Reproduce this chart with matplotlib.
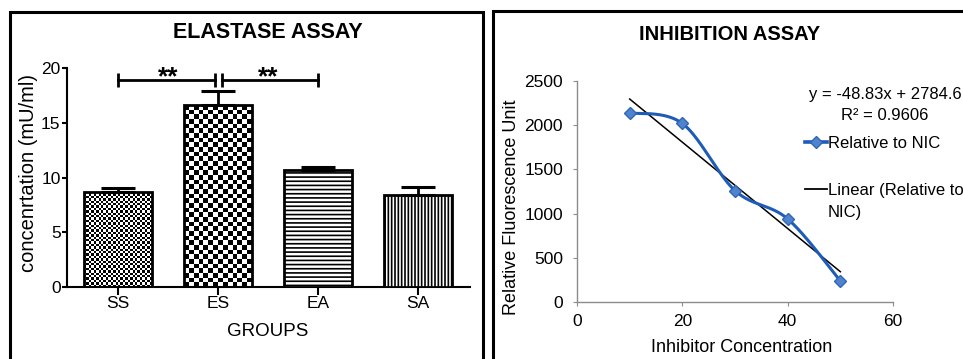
import numpy as np
import matplotlib

matplotlib.use("Agg")
import matplotlib.pyplot as plt
from matplotlib.lines import Line2D
from matplotlib.patches import Rectangle

plt.rcParams["font.family"] = ["Liberation Sans", "DejaVu Sans"]
plt.rcParams["hatch.linewidth"] = 1.2

# elastase assay (left panel)
groups = ["SS", "ES", "EA", "SA"]
conc = [8.7, 16.6, 10.7, 8.4]
conc_err = [0.3, 1.3, 0.23, 0.7]
sig_pairs = [(0, 1), (1, 2)]
sig_height = 18.9
sig_label = "**"

# inhibition assay (right panel)
inhib_conc = [10, 20, 30, 40, 50]
rfu = [2140, 2020, 1260, 940, 238]
fit_text = "y = -48.83x + 2784.6"
r2_text = "R² = 0.9606"

W, H = 963, 359


def fx(px):
    return px / W


def fy(py):
    return 1 - py / H


def checker(ax, bar, cell_px):
    # checkerboard fill clipped to the bar outline
    x0, w, h = bar.get_x(), bar.get_width(), bar.get_height()
    p0 = ax.transData.transform((x0, 0))
    p1 = ax.transData.transform((x0 + w, h))
    ncol = max(1, int(round((p1[0] - p0[0]) / cell_px)))
    nrow = max(1, int(round((p1[1] - p0[1]) / cell_px)))
    board = np.indices((nrow, ncol)).sum(axis=0) % 2
    im = ax.imshow(board, cmap="gray", extent=(x0, x0 + w, 0, h), origin="lower",
                   aspect="auto", interpolation="nearest", zorder=2)
    im.set_clip_path(bar)


def smooth(xs, ys, steps=40):
    # Catmull-Rom style bezier, like a spreadsheet "smoothed line"
    pts = np.column_stack([xs, ys]).astype(float)
    ext = np.vstack([pts[0], pts, pts[-1]])
    out = []
    t = np.linspace(0, 1, steps)[:, None]
    for i in range(1, len(ext) - 2):
        p0, p3 = ext[i], ext[i + 1]
        c1 = p0 + (ext[i + 1] - ext[i - 1]) / 6
        c2 = p3 - (ext[i + 2] - ext[i]) / 6
        seg = ((1 - t) ** 3) * p0 + 3 * ((1 - t) ** 2) * t * c1 + 3 * (1 - t) * t ** 2 * c2 + t ** 3 * p3
        out.append(seg)
    out = np.vstack(out)
    return out[:, 0], out[:, 1]


fig = plt.figure(figsize=(W / 100, H / 100), dpi=100)

# panel frames
fig.patches.append(Rectangle((fx(9.5), fy(420)), fx(482.5) - fx(9.5), fy(12) - fy(420),
                             transform=fig.transFigure, fill=False, lw=2.2, ec="black"))
fig.patches.append(Rectangle((fx(492.5), fy(420)), fx(1000) - fx(492.5), fy(11) - fy(420),
                             transform=fig.transFigure, fill=False, lw=2.2, ec="black"))

# ---- left: bar chart ----
ax1 = fig.add_axes([fx(67), fy(287), (470 - 67) / W, (287 - 68) / H])
x = np.arange(len(groups))
ax1.set_xlim(-0.51, 3.52)
ax1.set_ylim(0, 20)
bars = ax1.bar(x, conc, width=0.68, color="white", edgecolor="black", linewidth=2, zorder=3)
bars[0].set_facecolor("none")
bars[1].set_facecolor("none")
bars[2].set_hatch("----")
bars[3].set_hatch("|||||")
checker(ax1, bars[0], 2.4)
checker(ax1, bars[1], 4.7)
ax1.set_xlim(-0.51, 3.52)
ax1.set_ylim(0, 20)

ax1.errorbar(x, conc, yerr=[np.zeros(len(conc)), conc_err], fmt="none", ecolor="black",
             elinewidth=2, capsize=12, capthick=2.2, zorder=4)

shared = {a for a, b in sig_pairs} & {b for a, b in sig_pairs}
gap = 0.035
for a, b in sig_pairs:
    xa = x[a] + (gap if a in shared else 0)
    xb = x[b] - (gap if b in shared else 0)
    ax1.plot([xa, xb], [sig_height, sig_height], color="black", lw=2, clip_on=False)
    ax1.vlines([xa, xb], sig_height - 0.6, sig_height + 0.6, color="black", lw=2, clip_on=False)
    ax1.text((x[a] + x[b]) / 2, sig_height - 0.35, sig_label, ha="center", va="baseline",
             fontsize=19, fontweight="bold", clip_on=False)

for side in ("top", "right"):
    ax1.spines[side].set_visible(False)
for side in ("left", "bottom"):
    ax1.spines[side].set_linewidth(1.5)
ax1.set_xticks(x)
ax1.set_xticklabels(groups)
ax1.set_yticks([0, 5, 10, 15, 20])
ax1.tick_params(axis="y", length=3.6, width=1.5, pad=1, labelsize=12.5)
ax1.tick_params(axis="x", length=5.8, width=1.5, pad=1, labelsize=12.5)

fig.text(fx(268), fy(32), "ELASTASE ASSAY", ha="center", va="center", fontsize=15.5, fontweight="bold")
fig.text(fx(29), fy(173.5), "concenrtation (mU/ml)", rotation=90, ha="center", va="center", fontsize=14.5)
fig.text(fx(268), fy(332), "GROUPS", ha="center", va="center", fontsize=13.5)

# ---- right: inhibition curve ----
ax2 = fig.add_axes([fx(577), fy(302), (893 - 577) / W, (302 - 81) / H])
ax2.set_xlim(0, 60)
ax2.set_ylim(0, 2500)
sx, sy = smooth(inhib_conc, rfu)
ax2.plot(sx, sy, color="#1f5cb8", lw=2.2, zorder=3)
ax2.plot(inhib_conc, rfu, linestyle="none", marker="D", ms=6.5, mfc="#4f84cc",
         mec="#2f66b8", mew=1, zorder=4)
slope, icpt = np.polyfit(inhib_conc, rfu, 1)
fit_x = np.array([min(inhib_conc), max(inhib_conc)])
ax2.plot(fit_x, slope * fit_x + icpt, color="black", lw=1.1, zorder=2)

for side in ("top", "right"):
    ax2.spines[side].set_visible(False)
for side in ("left", "bottom"):
    ax2.spines[side].set_color("#8c8c8c")
    ax2.spines[side].set_linewidth(1)
ax2.set_xticks([0, 20, 40, 60])
ax2.set_yticks([0, 500, 1000, 1500, 2000, 2500])
ax2.tick_params(axis="both", color="#8c8c8c", length=3, labelsize=12.5)
ax2.tick_params(axis="y", pad=7)
ax2.tick_params(axis="x", pad=6)

handles = [
    Line2D([], [], color="#1f5cb8", lw=2.6, marker="D", ms=6.5, mfc="#4f84cc", mec="#2f66b8"),
    Line2D([], [], color="black", lw=1.3),
]
ax2.legend(handles, ["Relative to NIC", "Linear (Relative to"], loc="upper left",
           bbox_to_anchor=(fx(805), fy(136)), bbox_transform=fig.transFigure, frameon=False,
           fontsize=12, handlelength=1.3, handletextpad=0.1, labelspacing=1.9,
           borderpad=0, borderaxespad=0)
fig.text(fx(828), fy(212), "NIC)", ha="left", va="center", fontsize=12)

fig.text(fx(885), fy(95), fit_text, ha="center", va="center", fontsize=12)
fig.text(fx(885), fy(116), r2_text, ha="center", va="center", fontsize=12)

fig.text(fx(730), fy(35), "INHIBITION ASSAY", ha="center", va="center", fontsize=14.5, fontweight="bold")
fig.text(fx(512), fy(207.5), "Relative Fluorescence Unit", rotation=90, ha="center", va="center", fontsize=13)
fig.text(fx(742), fy(348), "Inhibitor Concentration", ha="center", va="center", fontsize=13)

fig.savefig("out.png", dpi=100)
